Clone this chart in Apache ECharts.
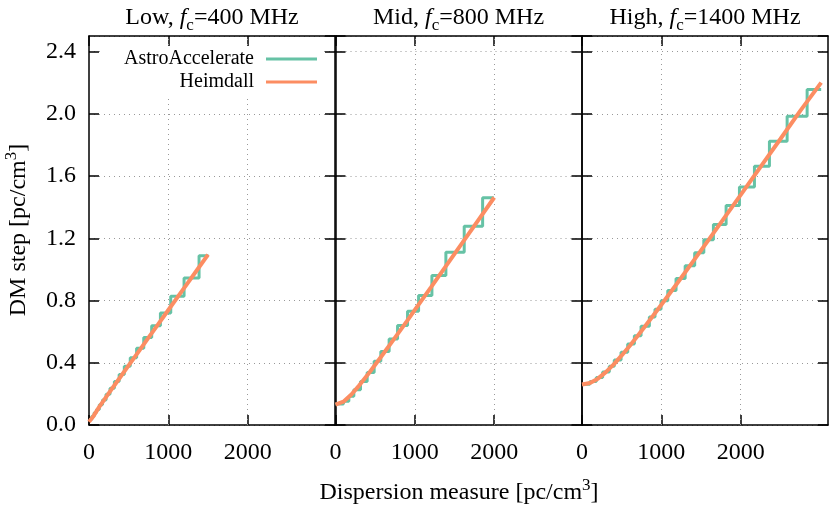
<!DOCTYPE html>
<html>
<head>
<meta charset="utf-8">
<script src="https://cdn.jsdelivr.net/npm/echarts@6/dist/echarts.min.js"></script>
<style>
html, body { margin: 0; padding: 0; background: #fff; }
#chart { width: 830px; height: 507px; }
</style>
</head>
<body>
<div id="chart"></div>
<script>
// panel titles
var panelNames = ['Low', 'Mid', 'High'];
var panelFreqs = ['400', '800', '1400'];
var xTicks = [0, 1000, 2000];

// Heimdall DM step curves (DM, step)
var lowCurveDM = [0, 60, 125, 250, 375, 500, 625, 750, 875, 1000, 1125, 1250, 1375, 1500];
var lowCurveStep = [0.02, 0.06, 0.113, 0.205, 0.294, 0.383, 0.472, 0.561, 0.65, 0.739, 0.828, 0.917, 1.006, 1.095];
var midCurveDM = [0, 100, 200, 300, 400, 500, 600, 700, 800, 900, 1000, 1200, 1400, 1600, 1800, 2000];
var midCurveStep = [0.131, 0.150, 0.196, 0.255, 0.319, 0.387, 0.456, 0.526, 0.597, 0.668, 0.74, 0.883, 1.028, 1.172, 1.317, 1.462];
var highCurveDM = [0, 100, 200, 300, 400, 500, 600, 700, 800, 900, 1000, 1200, 1400, 1600, 1800, 2000, 2250, 2500, 2750, 3014];
var highCurveStep = [0.26, 0.27, 0.298, 0.34, 0.39, 0.447, 0.508, 0.572, 0.638, 0.705, 0.773, 0.911, 1.052, 1.193, 1.336, 1.479, 1.659, 1.838, 2.019, 2.20];

// AstroAccelerate DM ranges (edges) and step in each range
var lowEdges = [0, 35, 65, 95, 130, 170, 215, 265, 320, 380, 445, 520, 600, 690, 790, 900, 1030, 1198, 1387, 1505];
var lowLevels = [0.035, 0.056, 0.078, 0.10, 0.13, 0.16, 0.197, 0.236, 0.28, 0.325, 0.377, 0.433, 0.494, 0.563, 0.638, 0.72, 0.827, 0.945, 1.088];
var midEdges = [0, 100, 168, 231, 315, 399, 487, 571, 676, 782, 908, 1047, 1215, 1391, 1622, 1854, 1995];
var midLevels = [0.135, 0.152, 0.184, 0.227, 0.280, 0.338, 0.409, 0.473, 0.553, 0.640, 0.731, 0.832, 0.960, 1.110, 1.277, 1.460];
var highEdges = [0, 100, 180, 260, 344, 407, 492, 576, 660, 744, 849, 920, 996, 1081, 1185, 1300, 1420, 1535, 1656, 1816, 1984, 2173, 2362, 2585, 2837, 3014];
var highLevels = [0.262, 0.279, 0.305, 0.340, 0.377, 0.418, 0.468, 0.520, 0.573, 0.635, 0.694, 0.744, 0.799, 0.865, 0.941, 1.024, 1.107, 1.190, 1.288, 1.41, 1.53, 1.663, 1.824, 1.985, 2.156];

var FONT = 'Liberation Serif';
var FS = 24;
var green = '#66c2a5';
var orange = '#fc8d62';
var gridLeft = [89, 335.5, 582];

function pairs(xs, ys) {
    return xs.map(function (x, i) { return [x, ys[i]]; });
}
// start of each range + end of the last one, drawn with step 'end'
function stairs(edges, levels) {
    var d = levels.map(function (v, i) { return [edges[i], v]; });
    d.push([edges[edges.length - 1], levels[levels.length - 1]]);
    return d;
}

var curves = [pairs(lowCurveDM, lowCurveStep), pairs(midCurveDM, midCurveStep), pairs(highCurveDM, highCurveStep)];
var steps = [stairs(lowEdges, lowLevels), stairs(midEdges, midLevels), stairs(highEdges, highLevels)];

var richStyle = {
    n: { fontFamily: FONT, fontSize: FS, lineHeight: 32, fill: '#000' },
    i: { fontFamily: FONT, fontSize: FS, fontStyle: 'italic', lineHeight: 32, fill: '#000' },
    s: { fontFamily: FONT, fontSize: 17, lineHeight: 17, verticalAlign: 'bottom', fill: '#000' },
    p: { fontFamily: FONT, fontSize: 17, lineHeight: 17, verticalAlign: 'top', fill: '#000' }
};

var axisLine = { show: true, onZero: false, lineStyle: { color: '#000', width: 1.5 } };
var tickStyle = { color: '#000', width: 1.5 };
var grids = [], xAxes = [], yAxes = [], series = [], graphics = [];

for (var i = 0; i < 3; i++) {
    grids.push({ left: gridLeft[i], top: 36, width: 246, height: 389, outerBoundsMode: 'none' });
    // bottom and top x axes
    xAxes.push({
        gridIndex: i, type: 'value', min: 0, max: 3100, interval: 1000, position: 'bottom',
        axisLine: axisLine,
        axisTick: { inside: true, length: 10, customValues: xTicks, lineStyle: tickStyle },
        axisLabel: { customValues: xTicks, margin: 16, fontFamily: FONT, fontSize: FS, color: '#000',
            formatter: function (v) { return v > 2000 ? '' : v; } },
        splitLine: { show: false }
    });
    xAxes.push({
        gridIndex: i, type: 'value', min: 0, max: 3100, interval: 1000, position: 'top',
        axisLine: axisLine,
        axisTick: { inside: true, length: 10, customValues: xTicks, lineStyle: tickStyle },
        axisLabel: { show: false },
        splitLine: { show: false }
    });
    // left and right y axes
    yAxes.push({
        gridIndex: i, type: 'value', min: 0, max: 2.5, interval: 0.4, position: 'left',
        axisLine: axisLine,
        axisTick: { inside: true, length: 10, lineStyle: tickStyle },
        axisLabel: { show: i == 0, margin: 13, showMaxLabel: false, fontFamily: FONT, fontSize: FS, color: '#000',
            formatter: function (v) { return v > 2.45 ? '' : v.toFixed(1); } },
        splitLine: { show: true, lineStyle: { type: [1, 4], color: '#999', width: 1 } }
    });
    yAxes.push({
        gridIndex: i, type: 'value', min: 0, max: 2.5, interval: 0.4, position: 'right',
        axisLine: axisLine,
        axisTick: { inside: true, length: 10, lineStyle: tickStyle },
        axisLabel: { show: false },
        splitLine: { show: false }
    });

    series.push({
        name: 'AstroAccelerate', type: 'line', step: 'end',
        xAxisIndex: 2 * i, yAxisIndex: 2 * i,
        data: steps[i], symbol: 'none', z: 2,
        lineStyle: { color: green, width: 3 }, itemStyle: { color: green },
        markLine: {
            silent: true, symbol: ['none', 'none'], z: 1, animation: false,
            label: { show: false },
            lineStyle: { type: [1, 4], color: '#999', width: 1 },
            data: [{ xAxis: 1000 }, { xAxis: 2000 }]
        }
    });
    series.push({
        name: 'Heimdall', type: 'line',
        xAxisIndex: 2 * i, yAxisIndex: 2 * i,
        data: curves[i], symbol: 'none', z: 3,
        lineStyle: { color: orange, width: 4 }, itemStyle: { color: orange }
    });

    // panel title
    graphics.push({
        type: 'text', x: gridLeft[i] + 123, y: 18,
        style: {
            text: '{n|' + panelNames[i] + ', }{i|f}{s|c}{n|=' + panelFreqs[i] + ' MHz}',
            rich: richStyle, align: 'center', verticalAlign: 'middle'
        }
    });
}

// axis names
graphics.push({
    type: 'text', x: 459, y: 493,
    style: { text: '{n|Dispersion measure [pc/cm}{p|3}{n|]}', rich: richStyle, align: 'center', verticalAlign: 'middle' }
});
graphics.push({
    type: 'text', x: 19, y: 230, rotation: Math.PI / 2,
    style: { text: '{n|DM step [pc/cm}{p|3}{n|]}', rich: richStyle, align: 'center', verticalAlign: 'middle' }
});

var myChart = echarts.init(document.getElementById('chart'), null, { renderer: 'canvas' });
myChart.setOption({
    animation: false,
    backgroundColor: '#fff',
    grid: grids,
    xAxis: xAxes,
    yAxis: yAxes,
    legend: {
        data: ['AstroAccelerate', 'Heimdall'], orient: 'vertical', align: 'right',
        right: 506, top: 47, icon: 'rect', itemWidth: 51, itemHeight: 3, itemGap: 3,
        backgroundColor: '#fff', padding: [2, 7, 4, 22],
        textStyle: { fontFamily: FONT, fontSize: 20, color: '#000', padding: [0, 7, 0, 0] }
    },
    series: series,
    graphic: graphics
});
</script>
</body>
</html>
